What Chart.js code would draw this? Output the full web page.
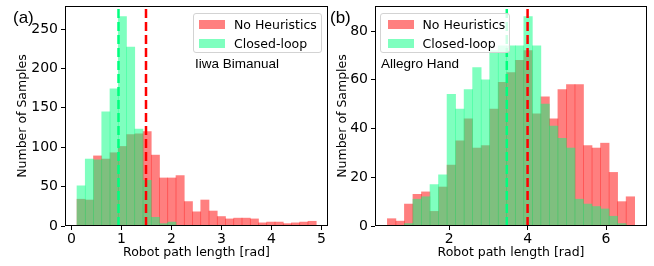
<!DOCTYPE html>
<html><head><meta charset="utf-8">
<script src="https://cdn.jsdelivr.net/npm/chart.js@4.4.1/dist/chart.umd.min.js"></script>
<style>
html,body{margin:0;padding:0;background:#fff;width:654px;height:266px;overflow:hidden;}
body{position:relative;font-family:"DejaVu Sans",sans-serif;}
canvas{position:absolute;top:0;}
#ca{left:0}
#cb{left:330px}
.lbl{position:absolute;font-family:"Liberation Sans",Arial,sans-serif;color:#000;white-space:nowrap;line-height:1;}
.legend{position:absolute;background:rgba(255,255,255,0.8);border:1px solid #d3d3d3;border-radius:3px;box-sizing:border-box;}
.item{position:absolute;font-family:"DejaVu Sans",sans-serif;font-size:12.5px;line-height:14px;height:14px;white-space:nowrap;color:#000}
.sw{position:absolute;width:26px;height:9px}
.red{background:rgba(255,0,0,0.5)}
.grn{background:rgba(0,255,127,0.5)}
</style></head>
<body>
<canvas id="ca" width="330" height="266"></canvas>
<canvas id="cb" width="324" height="266"></canvas>

<div class="lbl" style="left:13px;top:9px;font-size:17px">(a)</div>
<div class="lbl" style="left:330px;top:9px;font-size:17px">(b)</div>

<div class="legend" style="left:193px;top:13px;width:129px;height:40px">
  <div class="sw red" style="left:5px;top:6px"></div>
  <div class="item" style="left:40px;top:3.5px">No Heuristics</div>
  <div class="sw grn" style="left:5px;top:25px"></div>
  <div class="item" style="left:40px;top:22.5px">Closed-loop</div>
</div>
<div class="lbl" style="left:195px;top:56.5px;font-size:13.5px">Iiwa Bimanual</div>

<div class="legend" style="left:380px;top:13px;width:130px;height:40px">
  <div class="sw red" style="left:6.5px;top:6px"></div>
  <div class="item" style="left:41.5px;top:3.5px">No Heuristics</div>
  <div class="sw grn" style="left:6.5px;top:25px"></div>
  <div class="item" style="left:41.5px;top:22.5px">Closed-loop</div>
</div>
<div class="lbl" style="left:381px;top:56.5px;font-size:13.5px">Allegro Hand</div>

<script>
// ---- (a) Iiwa Bimanual ----
const binsA = [0.1925,0.3575,0.5225,0.6875,0.8525,1.0175,1.1825,1.3475,1.5125,1.6775,1.8425,2.0075,2.1725,2.3375,2.5025,2.6675,2.8325,2.9975,3.1625,3.3275,3.4925,3.6575,3.8225,3.9875,4.1525,4.3175,4.4825,4.6475,4.8125];
const noHeurA = [34,33,89,85,93,101,116,117,120,90,61,61,64,31,18,33,19,12,9,10,10,9,4,5,5,3,4,5,6];
const closedA = [51,85,84,145,174,266,227,123,58,11,3,5,0,0,0,0,0,0,0,0,0,0,0,0,0,0,0,0,0];
const meanNoHeurA = 1.49;
const meanClosedA = 0.94;
const xTicksA = [0,1,2,3,4,5];
const yTicksA = [0,50,100,150,200,250];
const xRangeA = [-0.13, 5.13];
const yMaxA = 279.3;

// ---- (b) Allegro Hand ----
const binsB = [0.5357,0.7530,0.9703,1.1876,1.4049,1.6222,1.8395,2.0568,2.2741,2.4914,2.7087,2.9260,3.1433,3.3606,3.5779,3.7952,4.0125,4.2298,4.4471,4.6644,4.8817,5.0990,5.3163,5.5336,5.7509,5.9682,6.1855,6.4028,6.6201];
const noHeurB = [3,2,9,13,14,6,16,25,35,44,32,33,48,59,63,68,72,46,53,44,56,58,58,33,32,34,22,10,12];
const closedB = [0,0,1,11,12,17,21,54,48,56,65,60,72,74,74,74,86,74,50,41,36,32,11,9,8,7,4,1,0];
const meanNoHeurB = 4.0;
const meanClosedB = 3.47;
const xTicksB = [2,4,6];
const yTicksB = [0,20,40,60,80];
const xRangeB = [0.112, 7.043];
const yMaxB = 90.3;

const RED = 'rgba(255,0,0,0.5)';
const GREEN = 'rgba(0,255,127,0.5)';
const FONT = 'DejaVu Sans';

const frame = {
  id: 'frame',
  afterDraw(chart) {
    const {ctx, chartArea: a} = chart;
    ctx.save();
    ctx.strokeStyle = '#000';
    ctx.lineWidth = 1;
    ctx.strokeRect(Math.round(a.left) + 0.5, Math.round(a.top) + 0.5,
                   Math.round(a.right) - Math.round(a.left) - 1, Math.round(a.bottom) - Math.round(a.top) - 1);
    ctx.restore();
  }
};

function makeChart(id, bins, red, green, mRed, mGreen, xTicks, yTicks, xRange, yMax, yAxisW, padRight, yTitlePad) {
  const toXY = arr => arr.map((v, i) => ({x: bins[i], y: v}));
  new Chart(document.getElementById(id), {
    type: 'bar',
    data: {
      datasets: [
        {type: 'line', data: [{x: mRed, y: 0}, {x: mRed, y: yMax}], borderColor: '#ff0000', borderWidth: 2.5,
         borderDash: [9, 4], pointRadius: 0, order: 0},
        {type: 'line', data: [{x: mGreen, y: 0}, {x: mGreen, y: yMax}], borderColor: '#00ff7f', borderWidth: 2.5,
         borderDash: [9, 4], pointRadius: 0, order: 0},
        {label: 'Closed-loop', data: toXY(green), backgroundColor: GREEN, borderWidth: 0,
         barPercentage: 1, categoryPercentage: 1, grouped: false, order: 1},
        {label: 'No Heuristics', data: toXY(red), backgroundColor: RED, borderWidth: 0,
         barPercentage: 1, categoryPercentage: 1, grouped: false, order: 2}
      ]
    },
    options: {
      responsive: false,
      animation: false,
      devicePixelRatio: 1,
      layout: {padding: {left: 0, top: 6, right: padRight, bottom: 0}},
      plugins: {legend: {display: false}, tooltip: {enabled: false}},
      scales: {
        x: {
          type: 'linear', min: xRange[0], max: xRange[1], offset: false,
          grid: {offset: false, drawOnChartArea: false, drawTicks: true, tickLength: 4, color: '#000'},
          border: {display: false},
          ticks: {font: {family: FONT, size: 14}, color: '#000', padding: 1, maxRotation: 0, autoSkip: false},
          afterBuildTicks: s => { s.ticks = xTicks.map(v => ({value: v})); },
          afterFit: s => { s.height = 40; s.paddingLeft = 0; s.paddingRight = 0; },
          title: {display: true, text: 'Robot path length [rad]', color: '#000',
                  font: {family: FONT, size: 12.5}, padding: {top: 0, bottom: 5.5}}
        },
        y: {
          type: 'linear', min: 0, max: yMax,
          grid: {drawOnChartArea: false, drawTicks: true, tickLength: 4, color: '#000'},
          border: {display: false},
          ticks: {font: {family: FONT, size: 14}, color: '#000', padding: 3},
          afterBuildTicks: s => { s.ticks = yTicks.map(v => ({value: v})); },
          afterFit: s => { s.width = yAxisW; s.paddingTop = 0; s.paddingBottom = 0; },
          title: {display: true, text: 'Number of Samples', color: '#000',
                  font: {family: FONT, size: 12.5}, padding: {top: yTitlePad, bottom: 0}}
        }
      }
    },
    plugins: [frame]
  });
}

makeChart('ca', binsA, noHeurA, closedA, meanNoHeurA, meanClosedA, xTicksA, yTicksA, xRangeA, yMaxA, 65, 2, 15);
makeChart('cb', binsB, noHeurB, closedB, meanNoHeurB, meanClosedB, xTicksB, yTicksB, xRangeB, yMaxB, 45, 7, 5);
</script>
</body></html>
